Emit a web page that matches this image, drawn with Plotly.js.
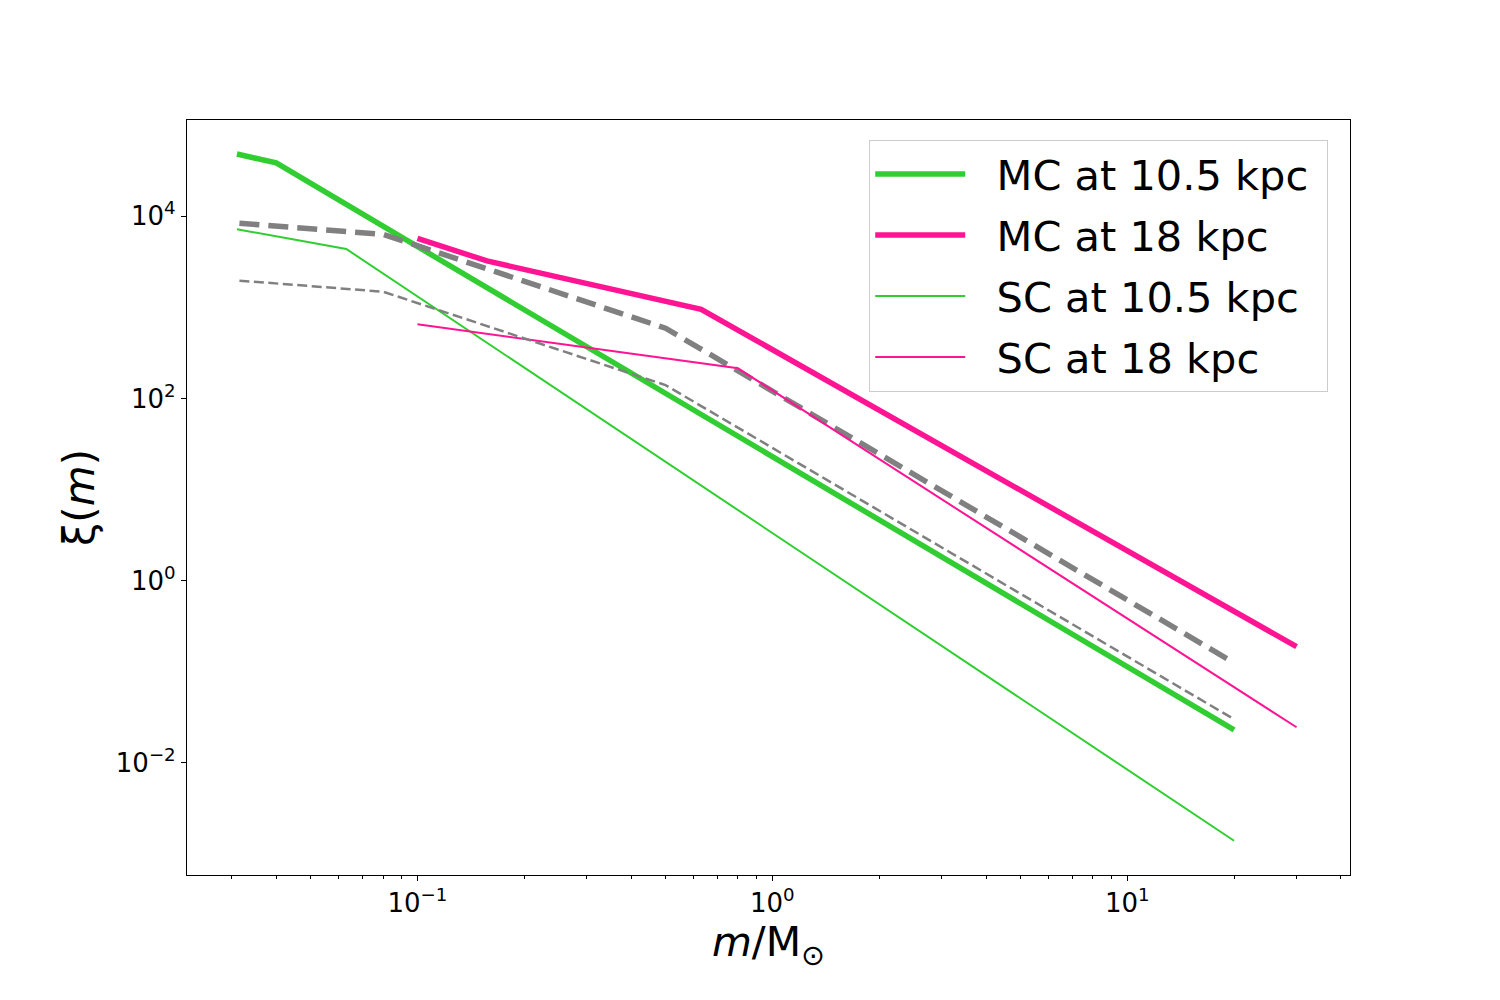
<!DOCTYPE html>
<html>
<head>
<meta charset="utf-8">
<script src="https://cdn.plot.ly/plotly-3.0.1.min.js"></script>
<style>
  body { margin: 0; background: #fff; }
  #chart { width: 1500px; height: 1000px; }
</style>
</head>
<body>
<div id="chart"></div>
<script>
// values (m in solar masses, xi(m))
var mc105X = [0.031, 0.04, 20];
var mc105Y = [48300, 38500, 0.0229];

var mc18X = [0.1, 0.157, 0.63, 30];
var mc18Y = [5730, 3230, 952, 0.188];

var sc105X = [0.031, 0.063, 20];
var sc105Y = [7200, 4375, 0.00139];

var sc18X = [0.1, 0.8, 30];
var sc18Y = [652, 214, 0.0245];

// grey reference curves (not in legend)
var refX = [0.0315, 0.08, 0.5, 20];
var refThickY = [8380, 6340, 590, 0.125];
var refThinY = [1964, 1486, 140, 0.030];

var seriesNames = ['MC at 10.5 kpc', 'MC at 18 kpc', 'SC at 10.5 kpc', 'SC at 18 kpc'];

var xTickVals = [0.1, 1, 10];
var xTickText = ['10<sup>\u22121</sup>', '10<sup>0</sup>', '10<sup>1</sup>'];
var xMinorVals = [0.03, 0.04, 0.05, 0.06, 0.07, 0.08, 0.09,
  0.2, 0.3, 0.4, 0.5, 0.6, 0.7, 0.8, 0.9,
  2, 3, 4, 5, 6, 7, 8, 9, 20, 30, 40];
var yTickVals = [0.01, 1, 100, 10000];
var yTickText = ['10<sup>\u22122</sup>', '10<sup>0</sup>', '10<sup>2</sup>', '10<sup>4</sup>'];

var green = '#32cd32';
var pink = '#ff1493';
var grey = '#808080';

// gap between the legend line and its label, and a bit of room on the right
var pad = '\u00a0\u00a0';
function legendName(s) { return pad + s + '\u00a0'; }

var traces = [
  {
    x: mc105X, y: mc105Y, name: legendName(seriesNames[0]), legendgroup: 'a',
    type: 'scatter', mode: 'lines',
    line: { color: green, width: 5.5 }
  },
  {
    x: mc18X, y: mc18Y, name: legendName(seriesNames[1]), legendgroup: 'b',
    type: 'scatter', mode: 'lines',
    line: { color: pink, width: 5.5 }
  },
  {
    x: refX, y: refThickY, showlegend: false,
    type: 'scatter', mode: 'lines',
    line: { color: grey, width: 5.5, dash: '20px,9px' }
  },
  {
    x: sc105X, y: sc105Y, name: legendName(seriesNames[2]), legendgroup: 'c',
    type: 'scatter', mode: 'lines',
    line: { color: green, width: 2 }
  },
  {
    x: sc18X, y: sc18Y, name: legendName(seriesNames[3]), legendgroup: 'd',
    type: 'scatter', mode: 'lines',
    line: { color: pink, width: 2 }
  },
  {
    x: refX, y: refThinY, showlegend: false,
    type: 'scatter', mode: 'lines',
    line: { color: grey, width: 2.5, dash: '10px,4.5px' }
  }
];

var layout = {
  width: 1500,
  height: 1000,
  margin: { l: 187, r: 150, t: 120, b: 125 },
  paper_bgcolor: 'white',
  plot_bgcolor: 'white',
  font: { family: 'DejaVu Sans', color: 'black' },
  showlegend: true,
  legend: {
    x: 0.5866, y: 0.974, xanchor: 'left', yanchor: 'top',
    bgcolor: 'rgba(255,255,255,0.8)',
    bordercolor: '#cccccc', borderwidth: 1,
    font: { size: 41.5, family: 'DejaVu Sans' },
    traceorder: 'grouped',
    tracegroupgap: 4,
    itemwidth: 90
  },
  xaxis: {
    type: 'log',
    range: [-1.6494, 1.6277],
    showgrid: false, zeroline: false,
    showline: true, mirror: true, linecolor: 'black', linewidth: 1.2,
    ticks: 'outside', ticklen: 5, tickwidth: 1.2, tickcolor: 'black',
    tickmode: 'array', tickvals: xTickVals, ticktext: xTickText,
    tickfont: { size: 26 },
    minor: { tickmode: 'array', tickvals: xMinorVals, ticks: 'outside', ticklen: 3, tickwidth: 1, tickcolor: 'black', showgrid: false },
    title: { text: '<i>m</i>/M<sub>\u2299</sub>', font: { size: 41 }, standoff: 6 }
  },
  yaxis: {
    type: 'log',
    range: [-3.233, 5.057],
    showgrid: false, zeroline: false,
    showline: true, mirror: true, linecolor: 'black', linewidth: 1.2,
    ticks: 'outside', ticklen: 5, tickwidth: 1.2, tickcolor: 'black',
    tickmode: 'array', tickvals: yTickVals, ticktext: yTickText,
    tickfont: { size: 26 },
    title: { text: '\u03be(<i>m</i>)', font: { size: 42 }, standoff: 8 }
  }
};

Plotly.newPlot('chart', traces, layout, { displayModeBar: false });
</script>
</body>
</html>
